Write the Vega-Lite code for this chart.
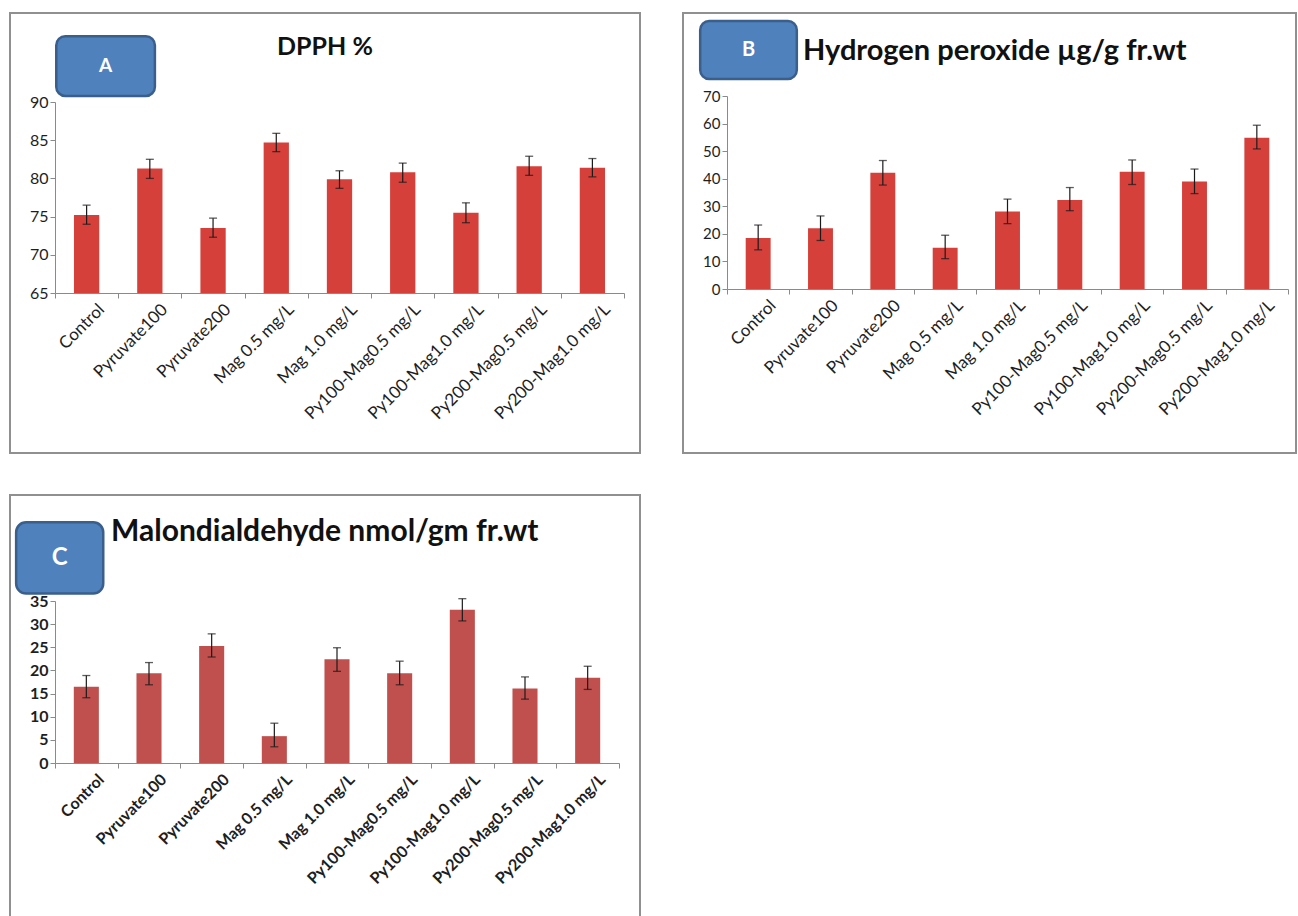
{
  "$schema": "https://vega.github.io/schema/vega-lite/v6.json",
  "background": "white",
  "padding": {"left": 8, "top": 12, "right": 0, "bottom": 0},
  "config": {
    "view": {"stroke": "#909090", "strokeWidth": 2},
    "axis": {"labelFont": "Lato", "labelColor": "#1e1e1e", "domainColor": "#8a8a8a", "tickColor": "#8a8a8a", "tickSize": 5, "grid": false, "title": null},
    "title": {"font": "Lato", "fontWeight": "bold", "color": "#111111", "baseline": "alphabetic", "frame": "group"}
  },
  "datasets": {
    "dpph": [
      {"t": "Control", "v": 75.2, "lo": 74.0, "hi": 76.5},
      {"t": "Pyruvate100", "v": 81.3, "lo": 80.0, "hi": 82.5},
      {"t": "Pyruvate200", "v": 73.5, "lo": 72.3, "hi": 74.8},
      {"t": "Mag 0.5 mg/L", "v": 84.7, "lo": 83.5, "hi": 85.9},
      {"t": "Mag 1.0 mg/L", "v": 79.9, "lo": 78.7, "hi": 81.0},
      {"t": "Py100-Mag0.5 mg/L", "v": 80.8, "lo": 79.5, "hi": 82.0},
      {"t": "Py100-Mag1.0 mg/L", "v": 75.5, "lo": 74.2, "hi": 76.8},
      {"t": "Py200-Mag0.5 mg/L", "v": 81.6, "lo": 80.4, "hi": 82.9},
      {"t": "Py200-Mag1.0 mg/L", "v": 81.4, "lo": 80.2, "hi": 82.6}
    ],
    "h2o2": [
      {"t": "Control", "v": 18.5, "lo": 14.2, "hi": 23.2},
      {"t": "Pyruvate100", "v": 22.0, "lo": 17.6, "hi": 26.5},
      {"t": "Pyruvate200", "v": 42.2, "lo": 37.7, "hi": 46.6},
      {"t": "Mag 0.5 mg/L", "v": 15.0, "lo": 11.0, "hi": 19.5},
      {"t": "Mag 1.0 mg/L", "v": 28.1, "lo": 23.7, "hi": 32.6},
      {"t": "Py100-Mag0.5 mg/L", "v": 32.3, "lo": 28.4, "hi": 36.8},
      {"t": "Py100-Mag1.0 mg/L", "v": 42.5, "lo": 37.9, "hi": 46.8},
      {"t": "Py200-Mag0.5 mg/L", "v": 39.0, "lo": 34.6, "hi": 43.5},
      {"t": "Py200-Mag1.0 mg/L", "v": 54.9, "lo": 50.8, "hi": 59.4}
    ],
    "mda": [
      {"t": "Control", "v": 16.5, "lo": 14.1, "hi": 18.9},
      {"t": "Pyruvate100", "v": 19.4, "lo": 16.9, "hi": 21.7},
      {"t": "Pyruvate200", "v": 25.3, "lo": 22.9, "hi": 27.9},
      {"t": "Mag 0.5 mg/L", "v": 5.8, "lo": 3.5, "hi": 8.6},
      {"t": "Mag 1.0 mg/L", "v": 22.4, "lo": 19.8, "hi": 24.9},
      {"t": "Py100-Mag0.5 mg/L", "v": 19.4, "lo": 16.9, "hi": 22.0},
      {"t": "Py100-Mag1.0 mg/L", "v": 33.1, "lo": 30.7, "hi": 35.5},
      {"t": "Py200-Mag0.5 mg/L", "v": 16.1, "lo": 13.8, "hi": 18.6},
      {"t": "Py200-Mag1.0 mg/L", "v": 18.4, "lo": 15.9, "hi": 20.9}
    ],
    "badgeA": [{"x1": 0.02, "x2": 1.58, "y1": 98.6, "y2": 90.8, "xc": 0.8, "yc": 94.7, "lab": "A"}],
    "badgeB": [{"x1": -0.43, "x2": 1.12, "y1": 97.2, "y2": 76.2, "xc": 0.345, "yc": 86.7, "lab": "B"}],
    "badgeC": [{"x1": -0.62, "x2": 0.77, "y1": 52.0, "y2": 36.6, "xc": 0.075, "yc": 44.3, "lab": "C"}]
  },
  "columns": 2,
  "spacing": {"row": 40, "column": 40},
  "concat": [
    {
      "width": 630, "height": 440,
      "title": {"text": "DPPH %", "anchor": "middle", "offset": -47, "fontSize": 25},
      "layer": [
        {
          "data": {"name": "dpph"},
          "layer": [
            {"mark": {"type": "bar", "width": {"band": 0.4}, "color": "#D6403B"},
             "encoding": {
               "x": {"field": "t", "type": "nominal", "sort": null,
                     "scale": {"range": [45, 614], "paddingInner": 0, "paddingOuter": 0},
                     "axis": {"orient": "bottom", "offset": -160, "labelAngle": -45, "labelFontSize": 17, "tickBand": "extent", "labelPadding": 3, "labelOffset": 9}},
               "y": {"field": "v", "type": "quantitative",
                     "scale": {"domain": [65, 90], "range": [280, 89], "nice": false, "zero": false},
                     "axis": {"offset": -45, "values": [65, 70, 75, 80, 85, 90], "labelFontSize": 16}},
               "y2": {"datum": 65}}},
            {"mark": {"type": "rule", "color": "#1a1a1a", "strokeWidth": 1.2},
             "encoding": {"x": {"field": "t", "type": "nominal", "sort": null}, "y": {"field": "lo", "type": "quantitative"}, "y2": {"field": "hi"}}},
            {"mark": {"type": "tick", "color": "#1a1a1a", "thickness": 1.3, "size": 8},
             "encoding": {"x": {"field": "t", "type": "nominal", "sort": null}, "y": {"field": "lo", "type": "quantitative"}}},
            {"mark": {"type": "tick", "color": "#1a1a1a", "thickness": 1.3, "size": 8},
             "encoding": {"x": {"field": "t", "type": "nominal", "sort": null}, "y": {"field": "hi", "type": "quantitative"}}}
          ]
        },
        {
          "data": {"name": "badgeA"},
          "layer": [
            {"mark": {"type": "rect", "fill": "#4F81BD", "stroke": "#3A5F8C", "strokeWidth": 2.5, "cornerRadius": 9},
             "encoding": {
               "x": {"field": "x1", "type": "quantitative", "scale": {"domain": [0, 9], "range": [45, 614], "nice": false, "zero": false}, "axis": null},
               "x2": {"field": "x2"},
               "y": {"field": "y1", "type": "quantitative", "scale": {"domain": [65, 90], "range": [280, 89], "nice": false, "zero": false}, "axis": null},
               "y2": {"field": "y2"}}},
            {"mark": {"type": "text", "color": "white", "font": "Lato", "fontWeight": "bold", "fontSize": 19, "align": "center", "baseline": "middle"},
             "encoding": {
               "x": {"field": "xc", "type": "quantitative"},
               "y": {"field": "yc", "type": "quantitative"},
               "text": {"field": "lab"}}}
          ]
        }
      ],
      "resolve": {"scale": {"x": "independent", "y": "independent"}, "axis": {"x": "independent", "y": "independent"}}
    },
    {
      "width": 613, "height": 440,
      "title": {"text": "Hydrogen peroxide µg/g fr.wt", "anchor": "start", "dx": 120, "offset": -53, "fontSize": 29},
      "layer": [
        {
          "data": {"name": "h2o2"},
          "layer": [
            {"mark": {"type": "bar", "width": {"band": 0.4}, "color": "#D6403B"},
             "encoding": {
               "x": {"field": "t", "type": "nominal", "sort": null,
                     "scale": {"range": [44, 605], "paddingInner": 0, "paddingOuter": 0},
                     "axis": {"orient": "bottom", "offset": -164, "labelAngle": -45, "labelFontSize": 17, "tickBand": "extent", "labelPadding": 3, "labelOffset": 9}},
               "y": {"field": "v", "type": "quantitative",
                     "scale": {"domain": [0, 70], "range": [276, 83], "nice": false},
                     "axis": {"offset": -44, "values": [0, 10, 20, 30, 40, 50, 60, 70], "labelFontSize": 15}}}},
            {"mark": {"type": "rule", "color": "#1a1a1a", "strokeWidth": 1.2},
             "encoding": {"x": {"field": "t", "type": "nominal", "sort": null}, "y": {"field": "lo", "type": "quantitative"}, "y2": {"field": "hi"}}},
            {"mark": {"type": "tick", "color": "#1a1a1a", "thickness": 1.3, "size": 8},
             "encoding": {"x": {"field": "t", "type": "nominal", "sort": null}, "y": {"field": "lo", "type": "quantitative"}}},
            {"mark": {"type": "tick", "color": "#1a1a1a", "thickness": 1.3, "size": 8},
             "encoding": {"x": {"field": "t", "type": "nominal", "sort": null}, "y": {"field": "hi", "type": "quantitative"}}}
          ]
        },
        {
          "data": {"name": "badgeB"},
          "layer": [
            {"mark": {"type": "rect", "fill": "#4F81BD", "stroke": "#3A5F8C", "strokeWidth": 2.5, "cornerRadius": 9},
             "encoding": {
               "x": {"field": "x1", "type": "quantitative", "scale": {"domain": [0, 9], "range": [44, 605], "nice": false, "zero": false}, "axis": null},
               "x2": {"field": "x2"},
               "y": {"field": "y1", "type": "quantitative", "scale": {"domain": [0, 70], "range": [276, 83], "nice": false, "zero": false}, "axis": null},
               "y2": {"field": "y2"}}},
            {"mark": {"type": "text", "color": "white", "font": "Lato", "fontWeight": "bold", "fontSize": 20, "align": "center", "baseline": "middle"},
             "encoding": {
               "x": {"field": "xc", "type": "quantitative"},
               "y": {"field": "yc", "type": "quantitative"},
               "text": {"field": "lab"}}}
          ]
        }
      ],
      "resolve": {"scale": {"x": "independent", "y": "independent"}, "axis": {"x": "independent", "y": "independent"}}
    },
    {
      "width": 630, "height": 424,
      "title": {"text": "Malondialdehyde nmol/gm fr.wt", "anchor": "start", "dx": 101, "offset": -52, "fontSize": 30},
      "layer": [
        {
          "data": {"name": "mda"},
          "layer": [
            {"mark": {"type": "bar", "width": {"band": 0.4}, "color": "#C0504D"},
             "encoding": {
               "x": {"field": "t", "type": "nominal", "sort": null,
                     "scale": {"range": [45, 609], "paddingInner": 0, "paddingOuter": 0},
                     "axis": {"orient": "bottom", "offset": -156, "labelAngle": -45, "labelFontSize": 16, "labelFontWeight": "bold", "tickBand": "extent", "labelPadding": 3, "labelOffset": 9}},
               "y": {"field": "v", "type": "quantitative",
                     "scale": {"domain": [0, 35], "range": [268, 106], "nice": false},
                     "axis": {"offset": -45, "values": [0, 5, 10, 15, 20, 25, 30, 35], "labelFontSize": 16, "labelFontWeight": "bold"}}}},
            {"mark": {"type": "rule", "color": "#1a1a1a", "strokeWidth": 1.2},
             "encoding": {"x": {"field": "t", "type": "nominal", "sort": null}, "y": {"field": "lo", "type": "quantitative"}, "y2": {"field": "hi"}}},
            {"mark": {"type": "tick", "color": "#1a1a1a", "thickness": 1.3, "size": 8},
             "encoding": {"x": {"field": "t", "type": "nominal", "sort": null}, "y": {"field": "lo", "type": "quantitative"}}},
            {"mark": {"type": "tick", "color": "#1a1a1a", "thickness": 1.3, "size": 8},
             "encoding": {"x": {"field": "t", "type": "nominal", "sort": null}, "y": {"field": "hi", "type": "quantitative"}}}
          ]
        },
        {
          "data": {"name": "badgeC"},
          "layer": [
            {"mark": {"type": "rect", "fill": "#4F81BD", "stroke": "#3A5F8C", "strokeWidth": 2.5, "cornerRadius": 10},
             "encoding": {
               "x": {"field": "x1", "type": "quantitative", "scale": {"domain": [0, 9], "range": [45, 609], "nice": false, "zero": false}, "axis": null},
               "x2": {"field": "x2"},
               "y": {"field": "y1", "type": "quantitative", "scale": {"domain": [0, 35], "range": [268, 106], "nice": false, "zero": false}, "axis": null},
               "y2": {"field": "y2"}}},
            {"mark": {"type": "text", "color": "white", "font": "Lato", "fontWeight": "bold", "fontSize": 24, "align": "center", "baseline": "middle"},
             "encoding": {
               "x": {"field": "xc", "type": "quantitative"},
               "y": {"field": "yc", "type": "quantitative"},
               "text": {"field": "lab"}}}
          ]
        }
      ],
      "resolve": {"scale": {"x": "independent", "y": "independent"}, "axis": {"x": "independent", "y": "independent"}}
    }
  ]
}
